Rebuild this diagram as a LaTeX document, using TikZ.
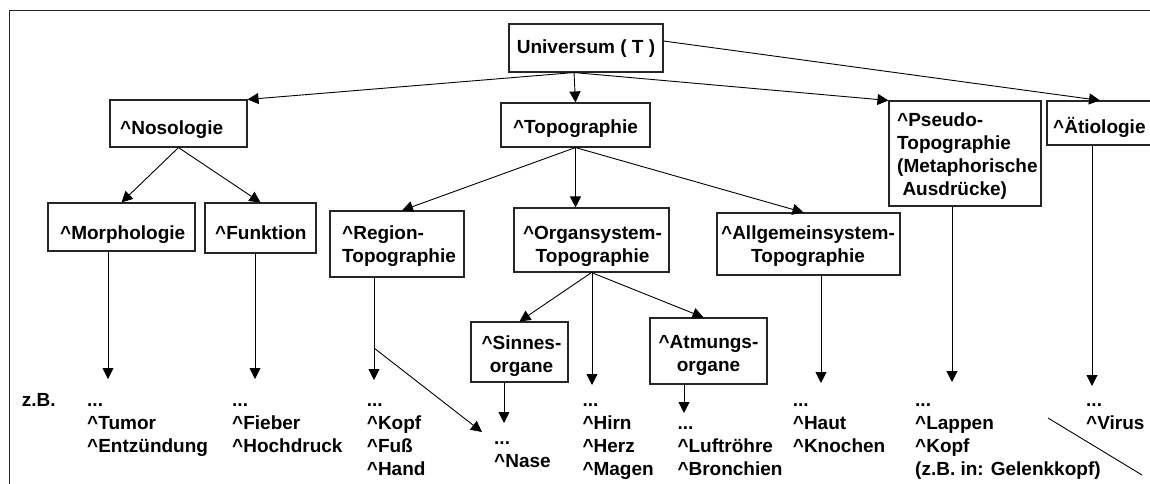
\documentclass[tikz,border=0pt]{standalone}
\usepackage{fontspec}
\setmainfont{Liberation Sans}
\usetikzlibrary{arrows.meta,calc}
% first-line strut: fixes the distance from a block's top to its first baseline
\newcommand\lnstrut{\rule{0pt}{18pt}}
\newcommand\crt{\textasciicircum}
\begin{document}
\begin{tikzpicture}[x=1pt,y=-1pt,
  box/.style={draw=black!85, line width=1.1pt, inner sep=0pt},
  lbl/.style={inner sep=0pt, font=\fontsize{19}{22.8}\selectfont\bfseries},
  blk/.style={lbl, align=left, anchor=north west},
  cblk/.style={lbl, align=center, anchor=north},
  link/.style={line width=0.9pt},
  arr/.style={link, -{Triangle[width=11pt,length=11pt]}},
  frame/.style={draw=black!85, line width=1pt}
]
\useasboundingbox (0,0) rectangle (1150,484);
\clip (0,0) rectangle (1150,484);

% outer frame (continues past the right and bottom edges)
\draw[frame] (9,500) -- (9,11) -- (1170,11);

% ---------- boxes ----------
\node[box, minimum width=154pt, minimum height=48pt]  (univ)   at (586,48)    {};
\node[box, minimum width=137pt, minimum height=47pt]  (noso)   at (178.5,123.5) {};
\node[box, minimum width=149pt, minimum height=44pt]  (topo)   at (575.5,125) {};
\node[box, minimum width=152pt, minimum height=105pt] (pseudo) at (965,153.5) {};
\node[box, minimum width=123pt, minimum height=44pt]  (etio)   at (1108.5,123) {};
\node[box, minimum width=147pt, minimum height=48pt]  (morph)  at (121.5,227) {};
\node[box, minimum width=111pt, minimum height=50pt]  (funk)   at (260.5,228) {};
\node[box, minimum width=134pt, minimum height=66pt]  (region) at (397,244)   {};
\node[box, minimum width=155pt, minimum height=64pt]  (organ)  at (591.5,240) {};
\node[box, minimum width=183pt, minimum height=62pt]  (allg)   at (808.5,244) {};
\node[box, minimum width=97pt,  minimum height=60pt]  (sinnes) at (519.5,352) {};
\node[box, minimum width=117pt, minimum height=66pt]  (atm)    at (708.5,351) {};

% ---------- box labels ----------
\node[lbl, anchor=base]      (univT)  at (586,54)    {Universum ( T )};
\node[lbl, anchor=base west] (nosoT)  at (120,134)   {\crt Nosologie};
\node[lbl, anchor=base]      (topoT)  at (575.5,133) {\crt Topographie};
\node[blk] (pseudoT) at (897,108.5) {\lnstrut\crt Pseudo-\\Topographie\\(Metaphorische\\\hspace*{5.3pt}Ausdrücke)};
\node[lbl, anchor=base west] (etioT)  at (1053,133)  {\crt Ätiologie};
\node[lbl, anchor=base west] (morphT) at (60,239)    {\crt Morphologie};
\node[lbl, anchor=base west] (funkT)  at (215,239)   {\crt Funktion};
\node[blk]  (regionT) at (342,221)   {\lnstrut\crt Region-\\Topographie};
\node[cblk] (organT)  at (592.5,221) {\lnstrut\crt Organsystem-\\Topographie};
\node[cblk] (allgT)   at (808,221)   {\lnstrut\crt Allgemeinsystem-\\Topographie};
\node[cblk] (sinnesT) at (521.5,331.5) {\lnstrut\crt Sinnes-\\organe};
\node[cblk] (atmT)    at (708.5,330) {\lnstrut\crt Atmungs-\\organe};

% ---------- example lists ----------
\node[lbl, anchor=base west] (zb) at (21.7,406) {z.B.};
\node[blk] (tumor)  at (87,388.5)    {\lnstrut...\\\crt Tumor\\\crt Entzündung};
\node[blk] (fieber) at (232,388.5)   {\lnstrut...\\\crt Fieber\\\crt Hochdruck};
\node[blk] (kopf)   at (366.7,388.5) {\lnstrut...\\\crt Kopf\\\crt Fuß\\\crt Hand};
\node[blk] (nase)   at (494,426.5)   {\lnstrut...\\\crt Nase};
\node[blk] (hirn)   at (582.3,388.5) {\lnstrut...\\\crt Hirn\\\crt Herz\\\crt Magen};
\node[blk] (luft)   at (677.3,411.5) {\lnstrut...\\\crt Luftröhre\\\crt Bronchien};
\node[blk] (haut)   at (792.7,388.5) {\lnstrut...\\\crt Haut\\\crt Knochen};
\node[blk] (lappen) at (915,388.5)   {\lnstrut...\\\crt Lappen\\\crt Kopf\\(z.B. in: Gelenkkopf)};
\node[blk] (virus)  at (1086,388.5)  {\lnstrut...\\\crt Virus};

% ---------- arrow end points above the lists ----------
\coordinate (tMorph)  at (108,379);
\coordinate (tFunk)   at (255,379);
\coordinate (tReg)    at (374,380);
\coordinate (rSplit)  at (374,348);
\coordinate (tNase)   at (482,432);
\coordinate (tSinn)   at (504,423);
\coordinate (tHirn)   at (592,385);
\coordinate (tAtm)    at (684,413);
\coordinate (tAllg)   at (821,383);
\coordinate (tPseudo) at (952,382);
\coordinate (tEtio)   at (1092,386);
\coordinate (xA)      at (1048,418);
\coordinate (xB)      at (1142,475);

% ---------- hierarchy ----------
\draw[arr] ([xshift=-12pt]univ.south) -- (noso.north east);
\draw[arr] ([xshift=-12pt]univ.south) -- (topo.north);
\draw[arr] ([xshift=-12pt]univ.south) -- (pseudo.north west);
\draw[arr] ([yshift=7pt]univ.east) -- ([xshift=-8.5pt]etio.north);

\draw[arr] (noso.south) -- (morph.north);
\draw[arr] (noso.south) -- (funk.north);

\draw[arr] (topo.south) -- ([xshift=5pt]region.north);
\draw[arr] (topo.south) -- (topo.south |- organ.north);
\draw[arr] (topo.south) -- ([xshift=-5pt]allg.north);

\draw[arr] (organ.south) -- (sinnes.north);
\draw[arr] (organ.south) -- ([xshift=-5pt]atm.north);
\draw[arr] (tHirn |- organ.south) -- (tHirn);

% ---------- links down to the examples ----------
\draw[arr] (tMorph |- morph.south) -- (tMorph);
\draw[arr] (tFunk |- funk.south) -- (tFunk);
\draw[arr] (tReg |- region.south) -- (tReg);
\draw[arr] (rSplit) -- (tNase);
\draw[arr] (tSinn |- sinnes.south) -- (tSinn);
\draw[arr] (tAtm |- atm.south) -- (tAtm);
\draw[arr] (tAllg |- allg.south) -- (tAllg);
\draw[arr] (tPseudo |- pseudo.south) -- (tPseudo);
\draw[arr] (tEtio |- etio.south) -- (tEtio);

% crossing-out stroke under the last column
\draw[link] (xA) -- (xB);
\end{tikzpicture}
\end{document}
